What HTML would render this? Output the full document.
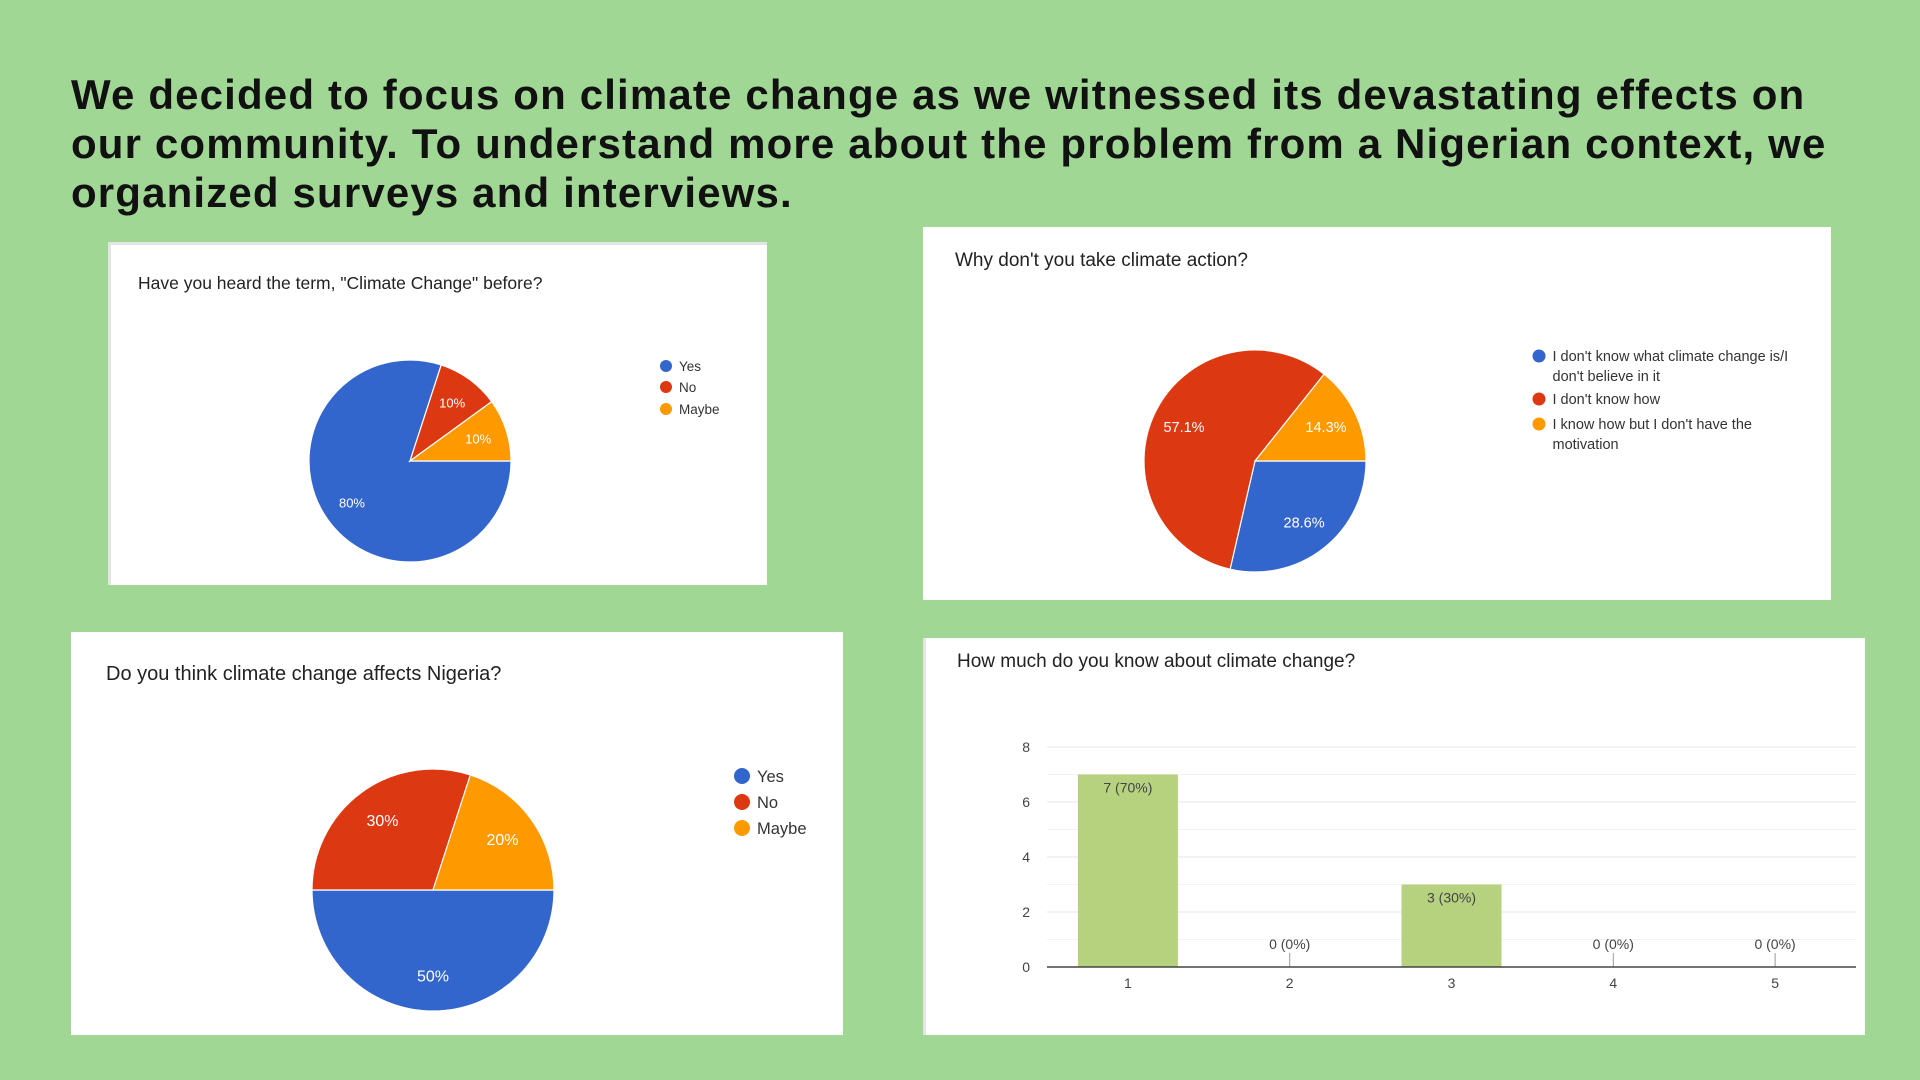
<!DOCTYPE html>
<html><head><meta charset="utf-8">
<style>
html,body{margin:0;padding:0;}
body{width:1920px;height:1080px;background:#a1d794;position:relative;overflow:hidden;font-family:"Liberation Sans",Arial,sans-serif;}
#heading{position:absolute;left:71px;top:70px;font-size:42px;font-weight:bold;line-height:49px;color:#111;letter-spacing:1.15px;white-space:nowrap;}
.panel{position:absolute;background:#fff;}
.ptitle{position:absolute;color:#222;white-space:nowrap;}
svg{position:absolute;left:0;top:0;}
</style></head><body>
<div id="heading">We decided to focus on climate change as we witnessed its devastating effects on<br>our community. To understand more about the problem from a Nigerian context, we<br>organized surveys and interviews.</div>

<div class="panel" style="left:108px;top:242px;width:659px;height:343px;border-left:3px solid #e4e4e4;border-top:3px solid #e4e4e4;box-sizing:border-box;">
  <div class="ptitle" style="left:27px;top:28px;font-size:17.5px;">Have you heard the term, "Climate Change" before?</div>
</div>
<div class="panel" style="left:923px;top:227px;width:908px;height:373px;">
  <div class="ptitle" style="left:32px;top:23px;font-size:19px;">Why don't you take climate action?</div>
</div>
<div class="panel" style="left:71px;top:632px;width:772px;height:403px;">
  <div class="ptitle" style="left:35px;top:31px;font-size:20px;">Do you think climate change affects Nigeria?</div>
</div>
<div class="panel" style="left:923px;top:638px;width:942px;height:397px;border-left:3px solid #e4e4e4;box-sizing:border-box;">
  <div class="ptitle" style="left:31px;top:13px;font-size:19px;">How much do you know about climate change?</div>
</div>

<svg id="charts" width="1920" height="1080"></svg>

<script>
// Pie 1
const pie1Labels = ["Yes","No","Maybe"];
const pie1Values = [80,10,10];
const pie1Text = ["80%","10%","10%"];
// Pie 2
const pie2Labels = ["I don't know what climate change is/I don't believe in it","I don't know how","I know how but I don't have the motivation"];
const pie2Values = [28.6,57.1,14.3];
const pie2Text = ["28.6%","57.1%","14.3%"];
// Pie 3
const pie3Labels = ["Yes","No","Maybe"];
const pie3Values = [50,30,20];
const pie3Text = ["50%","30%","20%"];
// Bar chart
const barCategories = ["1","2","3","4","5"];
const barValues = [7,0,3,0,0];
const barText = ["7 (70%)","0 (0%)","3 (30%)","0 (0%)","0 (0%)"];
const barTicks = [0,2,4,6,8];

const colors = ["#3366cc","#dc3912","#ff9900"];
const NS = "http://www.w3.org/2000/svg";
const svg = document.getElementById("charts");
function mk(tag, attrs, parent){
  const e = document.createElementNS(NS, tag);
  for (const k in attrs) e.setAttribute(k, attrs[k]);
  (parent||svg).appendChild(e);
  return e;
}

function drawPie(name, cx, cy, r, values, texts, fs){
  const g = mk("g", {});
  
  
  const total = values.reduce((a,b)=>a+b,0);
  let ang = 90;
  values.forEach((v,i)=>{
    const sweep = v/total*360;
    const a0 = (ang)*Math.PI/180, a1 = (ang+sweep)*Math.PI/180;
    const x0 = cx + r*Math.sin(a0), y0 = cy - r*Math.cos(a0);
    const x1 = cx + r*Math.sin(a1), y1 = cy - r*Math.cos(a1);
    const large = sweep > 180 ? 1 : 0;
    const p = mk("path", {d:`M${cx},${cy} L${x0},${y0} A${r},${r} 0 ${large} 1 ${x1},${y1} Z`, fill:colors[i], stroke:"#fff", "stroke-width":1.2}, g);
    
    
    const am = (ang + sweep/2)*Math.PI/180;
    const lr = r*0.71;
    const t = mk("text", {x:cx+lr*Math.sin(am), y:cy-lr*Math.cos(am)+fs*0.35, "text-anchor":"middle", fill:"#fff", "font-size":fs}, g);
    t.textContent = texts[i];
    
    
    ang += sweep;
  });
}

function drawLegend(name, x, ys, labels, fs, rr, wrapLines){
  labels.forEach((lab,i)=>{
    const c = mk("circle", {cx:x, cy:ys[i], r:rr, fill:colors[i]});
    
    
    const lines = wrapLines ? wrapLines[i] : [lab];
    lines.forEach((ln,j)=>{
      const t = mk("text", {x:x+rr+7, y:ys[i]+fs*0.36+j*fs*1.35, fill:"#333", "font-size":fs});
      t.textContent = ln;
      
      
    });
  });
}

drawPie("heard-term-pie", 410, 461, 101, pie1Values, pie1Text, 13);
drawLegend("heard-term-legend", 666, [366,387,409], pie1Labels, 13.5, 6);

drawPie("why-no-action-pie", 1255, 461, 111, pie2Values, pie2Text, 14.5);
drawLegend("why-no-action-legend", 1539, [356,399,424], pie2Labels, 14.5, 6.5,
  [["I don't know what climate change is/I","don't believe in it"],["I don't know how"],["I know how but I don't have the","motivation"]]);

drawPie("affects-nigeria-pie", 433, 890, 121, pie3Values, pie3Text, 16);
drawLegend("affects-nigeria-legend", 742, [776,802,828], pie3Labels, 16.5, 8);

const plotL = 1047, plotR = 1856, y0px = 967, y8px = 747, yMax = 8;
function yScale(v){ return y0px - (v/yMax)*(y0px - y8px); }
const band = (plotR - plotL)/barCategories.length;
function xCenter(i){ return plotL + band*(i+0.5); }
const bw = 100;

const grid = mk("g", {});


for (let v=1; v<=yMax; v++){
  mk("line", {x1:plotL, x2:plotR, y1:yScale(v), y2:yScale(v), stroke: v%2===0 ? "#e6e6e6" : "#f2f2f2", "stroke-width":1}, grid);
}
barTicks.forEach(v=>{
  const t = mk("text", {x:1030, y:yScale(v)+5, "text-anchor":"end", fill:"#444", "font-size":14});
  t.textContent = v;
  
  
});
barCategories.forEach((c,i)=>{
  const v = barValues[i];
  if (v > 0){
    const r = mk("rect", {x:xCenter(i)-bw/2, y:yScale(v), width:bw, height:y0px-yScale(v), fill:"#b6d27f"});
    
    
    const t = mk("text", {x:xCenter(i), y:yScale(v)+18, "text-anchor":"middle", fill:"#444", "font-size":14});
    t.textContent = barText[i];
    
    
  } else {
    const l = mk("line", {x1:xCenter(i), x2:xCenter(i), y1:y0px-14, y2:y0px, stroke:"#999", "stroke-width":1});
    
    
    const t = mk("text", {x:xCenter(i), y:y0px-18, "text-anchor":"middle", fill:"#444", "font-size":14});
    t.textContent = barText[i];
    
    
  }
  const xl = mk("text", {x:xCenter(i), y:988, "text-anchor":"middle", fill:"#444", "font-size":14});
  xl.textContent = c;
  
  
});
const axis = mk("line", {x1:plotL, x2:plotR, y1:y0px, y2:y0px, stroke:"#444", "stroke-width":1.5});


</script>
</body></html>
